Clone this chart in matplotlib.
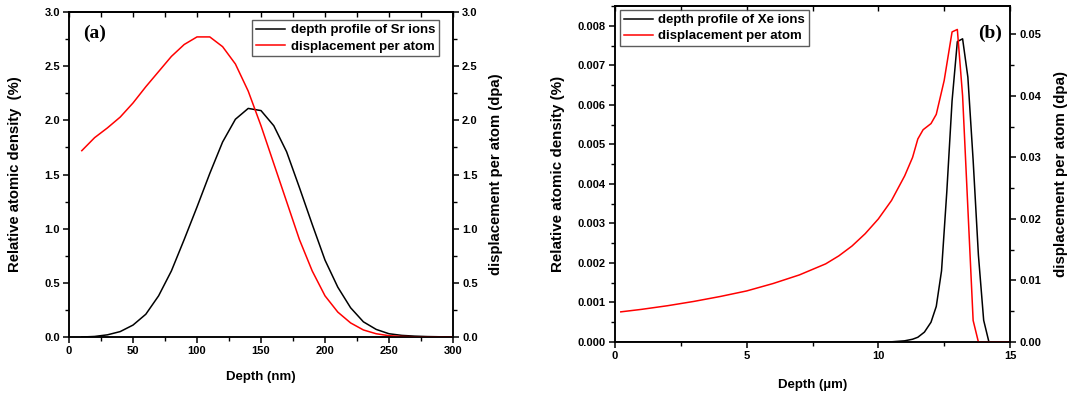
import numpy as np
import matplotlib
matplotlib.use('Agg')
import matplotlib.pyplot as plt
from matplotlib.ticker import MultipleLocator, FormatStrFormatter

plt.rcParams['font.family'] = ['Liberation Sans', 'DejaVu Sans']
plt.rcParams['font.weight'] = 'bold'
plt.rcParams['axes.labelweight'] = 'bold'
plt.rcParams['axes.linewidth'] = 1.1

# (a) Sr ions, depth in nm
sr_depth = [10, 20, 30, 40, 50, 60, 70, 80, 90, 100, 110, 120, 130, 140, 150,
            160, 170, 180, 190, 200, 210, 220, 230, 240, 250, 260, 270, 280, 290, 300]
sr_density = [0.0, 0.005, 0.02, 0.05, 0.11, 0.21, 0.38, 0.61, 0.90, 1.20, 1.51, 1.80,
              2.01, 2.11, 2.09, 1.95, 1.71, 1.38, 1.04, 0.71, 0.46, 0.27, 0.14, 0.07,
              0.03, 0.015, 0.008, 0.004, 0.002, 0.0]
sr_dpa = [1.72, 1.84, 1.93, 2.03, 2.16, 2.31, 2.45, 2.59, 2.70, 2.77, 2.77, 2.68, 2.52,
          2.27, 1.95, 1.60, 1.25, 0.90, 0.61, 0.38, 0.23, 0.13, 0.065, 0.03, 0.012,
          0.005, 0.002, 0.001, 0.0, 0.0]

# (b) Xe ions, depth in um
xe_depth = [0, 10.0, 10.5, 11.0, 11.3, 11.5, 11.75, 12.0, 12.2, 12.4, 12.6, 12.8,
            13.0, 13.2, 13.4, 13.6, 13.8, 14.0, 14.2, 15.0]
xe_density = [0, 0, 0.000005, 0.00003, 0.00007, 0.00012, 0.00025, 0.0005, 0.0009,
              0.0018, 0.0038, 0.0061, 0.0076, 0.00767, 0.0067, 0.0046, 0.0022,
              0.00055, 0.0, 0.0]
xe_dpa_depth = [0.22, 1, 2, 3, 4, 5, 6, 7, 8, 8.5, 9, 9.5, 10, 10.5, 11, 11.3, 11.5,
                11.7, 11.85, 12.0, 12.2, 12.5, 12.8, 13.0, 13.2, 13.6, 13.8, 15.0]
xe_dpa = [0.0049, 0.0053, 0.0059, 0.0066, 0.0074, 0.0083, 0.0095, 0.0109, 0.0127,
          0.0140, 0.0156, 0.0176, 0.0200, 0.0230, 0.0270, 0.0300, 0.0330, 0.0345,
          0.0350, 0.0355, 0.0370, 0.0425, 0.0504, 0.0508, 0.0400, 0.0035, 0.0, 0.0]


def style_axes(ax, ax2, xmaj, xmin, ymaj, ymin, y2maj, y2min, xfmt, yfmt, y2fmt):
    ax.xaxis.set_major_locator(MultipleLocator(xmaj))
    ax.xaxis.set_minor_locator(MultipleLocator(xmin))
    ax.yaxis.set_major_locator(MultipleLocator(ymaj))
    ax.yaxis.set_minor_locator(MultipleLocator(ymin))
    ax2.yaxis.set_major_locator(MultipleLocator(y2maj))
    ax2.yaxis.set_minor_locator(MultipleLocator(y2min))
    ax.xaxis.set_major_formatter(FormatStrFormatter(xfmt))
    ax.yaxis.set_major_formatter(FormatStrFormatter(yfmt))
    ax2.yaxis.set_major_formatter(FormatStrFormatter(y2fmt))
    for a in (ax, ax2):
        a.tick_params(which='major', direction='out', length=4.5, width=1.1, labelsize=8, pad=2)
        a.tick_params(which='minor', direction='out', length=3, width=1.0)
    ax.tick_params(top=False, right=False, which='both')
    ax2.tick_params(top=False, left=False, which='both')
    # top axis: ticks pointing inward, no labels
    top = ax.secondary_xaxis('top')
    top.xaxis.set_major_locator(MultipleLocator(xmin))
    top.tick_params(direction='in', length=3.5, width=1.0, labeltop=False)
    top.xaxis.set_minor_locator(MultipleLocator(xmin))
    top.tick_params(which='minor', length=0)


fig = plt.figure(figsize=(10.92, 3.94), dpi=100)

# ---- panel (a)
ax = fig.add_axes([69 / 1092, 57 / 394, 384 / 1092, 325 / 394])
ax2 = ax.twinx()
l1, = ax.plot(sr_depth, sr_density, color='black', lw=1.1)
l2, = ax2.plot(sr_depth, sr_dpa, color='red', lw=1.1)
ax.set_xlim(0, 300)
ax.set_ylim(0, 3.0)
ax2.set_ylim(0, 3.0)
style_axes(ax, ax2, 50, 25, 0.5, 0.25, 0.5, 0.25, '%d', '%.1f', '%.1f')
ax.set_xlabel('Depth (nm)', fontsize=9.5)
ax.set_ylabel('Relative atomic density  (%)', fontsize=10.7)
ax2.set_ylabel('displacement per atom (dpa)', fontsize=10.7)
ax.xaxis.set_label_coords(0.5, -0.105)
ax.yaxis.set_label_coords(-0.122, 0.5)
ax2.yaxis.set_label_coords(1.094, 0.5)
leg = ax2.legend([l1, l2], ['depth profile of Sr ions', 'displacement per atom'],
                 loc='upper right', bbox_to_anchor=(0.9635, 0.975), fontsize=9.5,
                 frameon=True, fancybox=False, borderpad=0.3, handlelength=2.2,
                 handletextpad=0.4, labelspacing=0.3, borderaxespad=0)
leg.get_frame().set_edgecolor('#333333')
leg.get_frame().set_linewidth(1.0)
ax.text(0.036, 0.935, '(a)', transform=ax.transAxes, fontsize=14, fontweight='bold',
        family='Liberation Serif', va='center', ha='left')

# ---- panel (b)
bx = fig.add_axes([615 / 1092, 52 / 394, 395 / 1092, 336 / 394])
bx2 = bx.twinx()
m1, = bx.plot(xe_depth, xe_density, color='black', lw=1.1)
m2, = bx2.plot(xe_dpa_depth, xe_dpa, color='red', lw=1.1)
bx.set_xlim(0, 15)
bx.set_ylim(0, 0.0085)
bx2.set_ylim(0, 0.0085 / 0.008 * 0.0514)
style_axes(bx, bx2, 5, 2.5, 0.001, 0.0005, 0.01, 0.005, '%d', '%.3f', '%.2f')
bx.set_xlabel('Depth (\u00b5m)', fontsize=9.5)
bx.set_ylabel('Relative atomic density (%)', fontsize=10.9)
bx2.set_ylabel('displacement per atom (dpa)', fontsize=10.9)
bx.xaxis.set_label_coords(0.5, -0.11)
bx.yaxis.set_label_coords(-0.127, 0.5)
bx2.yaxis.set_label_coords(1.111, 0.5)
leg = bx2.legend([m1, m2], ['depth profile of Xe ions', 'displacement per atom'],
                 loc='upper left', bbox_to_anchor=(0.0127, 0.988), fontsize=9.5,
                 frameon=True, fancybox=False, borderpad=0.3, handlelength=2.2,
                 handletextpad=0.4, labelspacing=0.3, borderaxespad=0)
leg.get_frame().set_edgecolor('#333333')
leg.get_frame().set_linewidth(1.0)
bx.text(0.98, 0.92, '(b)', transform=bx.transAxes, fontsize=14, fontweight='bold',
        family='Liberation Serif', va='center', ha='right')

fig.savefig('out.png', dpi=100)
